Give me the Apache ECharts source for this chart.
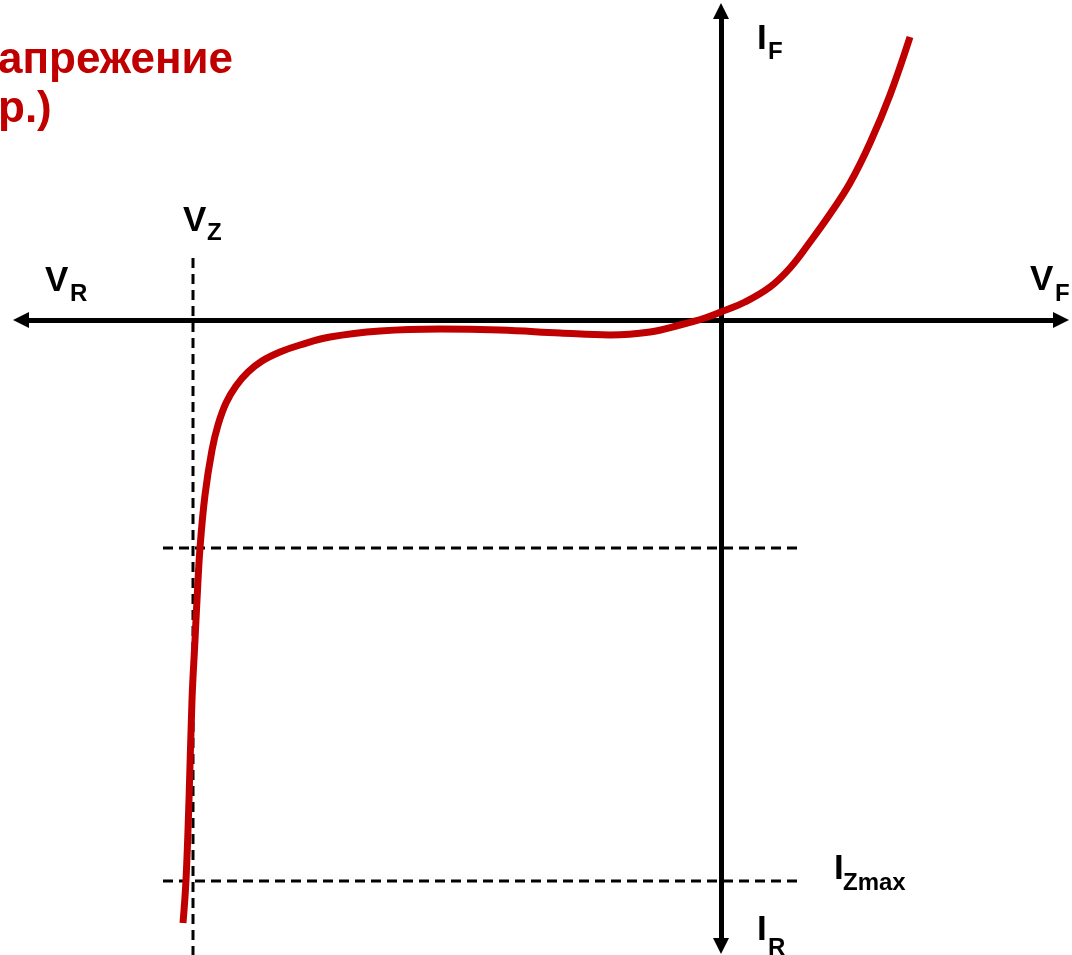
<!DOCTYPE html>
<html lang="ru" style="height: 100%">
<head>
<meta charset="utf-8">
<title>Zener diode I-V</title>
</head>
<body style="height: 100%; margin: 0">
<div id="container" style="width: 1072px; height: 955px"></div>

<script type="text/javascript" src="https://cdn.jsdelivr.net/npm/echarts@6/dist/echarts.min.js"></script>

<script type="text/javascript">

var dom = document.getElementById('container');
var myChart = echarts.init(dom);

// curve (arbitrary units, origin at axis crossing)
var voltage = [-5.38, -5.35, -5.32, -5.29, -5.26, -5.24, -5.21, -5.16, -5.09, -5.03, -4.95, -4.85, -4.73, -4.59, -4.41, -4.21,
    -3.91, -3.41, -2.81, -2.21, -1.61, -1.11, -0.71, -0.41, -0.16, 0, 0.24, 0.49, 0.69, 0.89, 1.09, 1.29, 1.49, 1.69, 1.89];
var current = [-6.03, -5.60, -4.80, -3.80, -3.20, -2.80, -2.28, -1.75, -1.30, -1.05, -0.83, -0.66, -0.52, -0.41, -0.32, -0.25,
    -0.17, -0.11, -0.09, -0.10, -0.13, -0.15, -0.12, -0.05, 0.02, 0.08, 0.18, 0.33, 0.52, 0.78, 1.06, 1.37, 1.77, 2.25, 2.83];

var vz = -5.28;
var vzTop = 0.62;
var iz = -2.28;
var izMax = -5.61;
var dashFrom = -5.58;
var dashTo = 0.76;

var font = '"Liberation Sans", Arial, sans-serif';
var red = '#c00000';

function pairs(xs, ys) {
    return xs.map(function (x, i) { return [x, ys[i]]; });
}

function label(text, x, y, size, color) {
    return {
        type: 'text',
        x: x,
        y: y + 4,
        style: {
            text: text,
            fill: color || '#000',
            font: 'bold ' + size + 'px ' + font,
            verticalAlign: 'middle'
        }
    };
}

var dashed = {color: '#000', width: 3, type: [10, 6]};

var option = {
    animation: false,
    grid: {left: 21, right: 11, top: 11, bottom: 9},
    xAxis: {
        type: 'value',
        min: -7.0,
        max: 3.4,
        axisLine: {
            show: true,
            onZero: true,
            symbol: ['triangle', 'triangle'],
            symbolSize: [16, 16],
            lineStyle: {color: '#000', width: 5}
        },
        axisTick: {show: false},
        axisLabel: {show: false},
        splitLine: {show: false}
    },
    yAxis: {
        type: 'value',
        min: -6.26,
        max: 3.09,
        axisLine: {
            show: true,
            onZero: true,
            symbol: ['triangle', 'triangle'],
            symbolSize: [16, 16],
            lineStyle: {color: '#000', width: 5}
        },
        axisTick: {show: false},
        axisLabel: {show: false},
        splitLine: {show: false}
    },
    series: [
        {
            name: 'Vz',
            type: 'line',
            clip: false,
            showSymbol: false,
            lineStyle: dashed,
            data: [[vz, vzTop], [vz, -6.36]]
        },
        {
            name: 'Iz',
            type: 'line',
            showSymbol: false,
            lineStyle: dashed,
            data: [[dashFrom, iz], [dashTo, iz]]
        },
        {
            name: 'Izmax',
            type: 'line',
            showSymbol: false,
            lineStyle: dashed,
            data: [[dashFrom, izMax], [dashTo, izMax]]
        },
        {
            name: 'I-V',
            type: 'line',
            smooth: 0.4,
            showSymbol: false,
            lineStyle: {color: red, width: 7},
            data: pairs(voltage, current)
        }
    ],
    graphic: [
        label('апрежение', -2, 57, 44, red),
        label('р.)', -2, 106, 44, red),
        label('V', 183, 217, 35),
        label('Z', 207, 229, 24),
        label('V', 45, 277, 35),
        label('R', 70, 290, 24),
        label('V', 1030, 276, 35),
        label('F', 1055, 290, 24),
        label('I', 757, 35, 35),
        label('F', 768, 48, 24),
        label('I', 757, 926, 35),
        label('R', 768, 944, 24),
        label('I', 834, 865, 35),
        label('Zmax', 843, 879, 24)
    ]
};

if (option && typeof option === 'object') {
    myChart.setOption(option);
}

window.addEventListener('resize', myChart.resize);
</script>
</body>
</html>
